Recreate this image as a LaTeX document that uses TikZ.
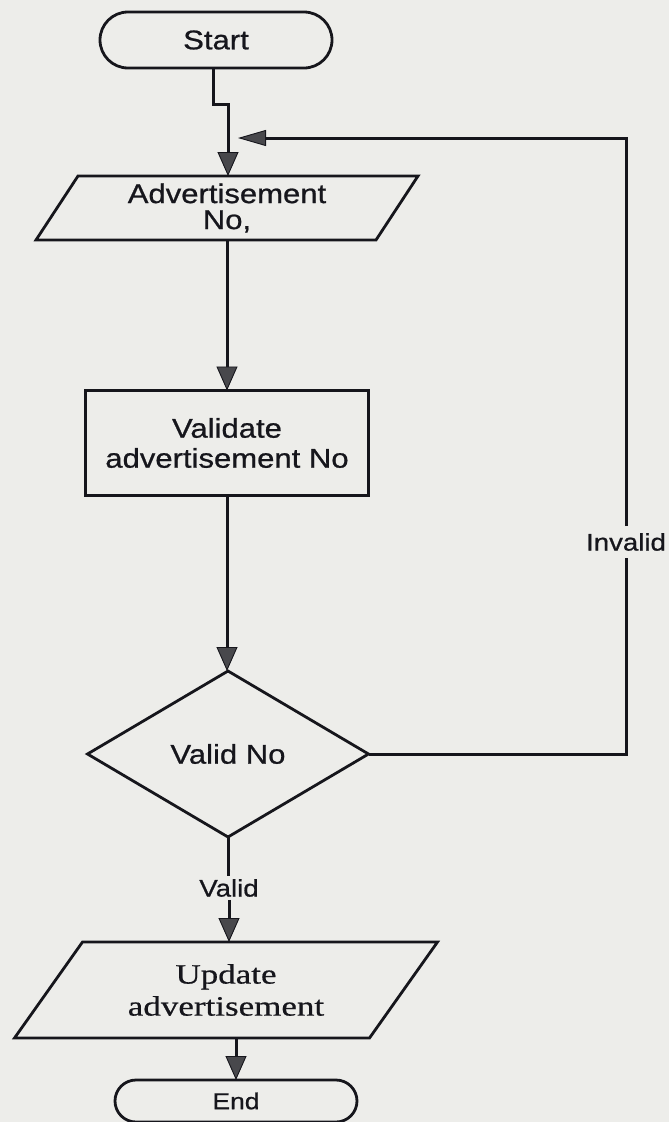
\documentclass[tikz,border=0pt]{standalone}
\usepackage{fontspec}
\setmainfont{Liberation Sans}
\newfontfamily\flowsans[FakeStretch=1.15,FakeBold=0.8]{Liberation Sans}
\newfontfamily\flowserif[FakeStretch=1.25,FakeBold=0.6]{Liberation Serif}
\usetikzlibrary{arrows.meta,shapes.geometric}
\definecolor{paper}{RGB}{237,237,234}
\definecolor{ink}{RGB}{22,22,28}
\definecolor{tipfill}{RGB}{72,72,76}

\begin{document}
\begin{tikzpicture}[x=1pt,y=-1pt,
  every node/.style={inner sep=0pt, outer sep=0pt, text=ink},
  flowtext/.style={font=\flowsans\fontsize{27}{30}\selectfont, align=center},
  outline/.style={draw=ink, line width=2.8pt},
  terminal/.style={outline, rectangle, rounded corners=#1, flowtext},
  procbox/.style={outline, rectangle, flowtext},
  decision/.style={outline, diamond, flowtext},
  iobox/.style={rectangle, flowtext},
  link/.style={draw=ink, line width=3pt},
  flowarrow/.style={link, -{Triangle[length=24pt,width=21pt,line width=0.9pt,fill=tipfill]}},
  backarrow/.style={link, -{Triangle[length=28pt,width=16pt,line width=0.9pt,fill=tipfill]}},
  edgelabel/.style={flowtext, font=\flowsans\fontsize{24}{28}\selectfont, inner xsep=2pt}
]
% paper
\fill[paper] (0,0) rectangle (669,1122);
\useasboundingbox (0,0) rectangle (669,1122);

% nodes
\node[terminal=28pt, minimum width=232pt, minimum height=56pt] (start) at (216,40) {Start};

\node[iobox, minimum width=340pt, minimum height=64pt, font=\flowsans\fontsize{27}{26}\selectfont] (adv) at (227,208) {Advertisement\\No,};
\draw[outline] ([xshift=21pt]adv.north west) -- ([xshift=21pt]adv.north east)
  -- ([xshift=-21pt]adv.south east) -- ([xshift=-21pt]adv.south west) -- cycle;

\node[procbox, minimum width=283pt, minimum height=105pt] (val) at (227,443) {Validate\\advertisement No};

\node[decision, minimum width=281pt, minimum height=166pt] (dia) at (228,754) {Valid No};

\node[edgelabel, inner ysep=3pt] (validlbl) at (229,888) {Valid};

\node[iobox, minimum width=355pt, minimum height=96pt, font=\flowserif\fontsize{28}{32}\selectfont] (upd) at (226,990) {Update\\advertisement};
\draw[outline] ([xshift=34pt]upd.north west) -- ([xshift=34pt]upd.north east)
  -- ([xshift=-34pt]upd.south east) -- ([xshift=-34pt]upd.south west) -- cycle;

\node[terminal=21pt, minimum width=242pt, minimum height=42pt, font=\flowsans\fontsize{23}{26}\selectfont] (end) at (236,1101) {End};

\node[edgelabel, inner ysep=7pt] (invlbl) at (626,542) {Invalid};

% connectors
\coordinate (jogtop) at (213,104);
\coordinate (jogbot) at (228,104);
\coordinate (loopend) at (238,138);

\draw[flowarrow] (start.south -| jogtop) -- (jogtop) -- (jogbot) -- (jogbot |- adv.north);
\draw[flowarrow] (adv.south) -- (adv.south |- val.north);
\draw[flowarrow] (val.south) -- (val.south |- dia.north);
\draw[link] (dia.south) -- (dia.south |- validlbl.north);
\draw[flowarrow] (validlbl.south) -- (validlbl.south |- upd.north);
\draw[flowarrow] (upd.south -| end.north) -- (end.north);

\draw[link] (dia.east) -- (dia.east -| invlbl.south) -- (invlbl.south);
\draw[backarrow] (invlbl.north) -- (invlbl.north |- loopend) -- (loopend);
\end{tikzpicture}
\end{document}
